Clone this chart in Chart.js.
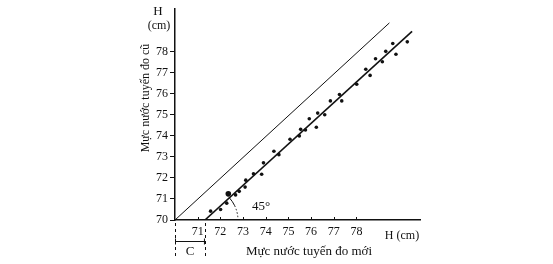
<!DOCTYPE html>
<html><head><meta charset="utf-8">
<script src="https://cdn.jsdelivr.net/npm/chart.js@4/dist/chart.umd.min.js"></script>
<style>html,body{margin:0;padding:0;background:#fff;}#wrap{width:553px;height:264px;}</style>
</head><body><div id="wrap"><canvas id="c" width="553" height="264"></canvas></div>
<script>
// ---- data ----
const xTicks = [71, 72, 73, 74, 75, 76, 77, 78];
const yTicks = [70, 71, 72, 73, 74, 75, 76, 77, 78];
const obsX = [71.57, 72.01, 72.28, 72.35, 72.67, 72.83, 73.09, 73.12, 73.46, 73.82, 73.90,
              74.36, 74.58, 75.07, 75.48, 75.54, 75.75, 75.92, 76.23, 76.29, 76.60, 76.85,
              77.25, 77.35, 78.01, 78.41, 78.60, 78.84, 79.14, 79.29, 79.60, 79.74, 80.24];
const obsY = [70.42, 70.50, 70.80, 71.24, 71.19, 71.36, 71.56, 71.89, 72.19, 72.17, 72.71,
              73.26, 73.10, 73.83, 73.99, 74.30, 74.27, 74.80, 74.40, 75.07, 74.99, 75.65,
              75.95, 75.65, 76.44, 77.15, 76.86, 77.65, 77.51, 78.00, 78.37, 77.86, 78.45];
const fitX = [71.32, 80.45];
const fitY = [70, 78.95];
const refX = [70, 79.45];
const refY = [70, 79.35];
const cInterval = [70, 71.32];
const angleLabel = "45°";
const xTitle = "Mực nước tuyến đo mới";
const yTitle = "Mực nước tuyến đo cũ";
const unitLabel = "H (cm)";

const zip = (xs, ys) => xs.map((x, i) => ({x, y: ys[i]}));
const SERIF = "'Liberation Serif', 'DejaVu Serif', serif";
const INK = '#111';

const annot = {
  id: 'annot',
  afterDraw(chart) {
    const ctx = chart.ctx, xs = chart.scales.x, ys = chart.scales.y;
    const x0 = xs.getPixelForValue(cInterval[0]);
    const x1 = xs.getPixelForValue(cInterval[1]);
    const yb = ys.getPixelForValue(70);
    ctx.save();
    ctx.fillStyle = INK; ctx.strokeStyle = INK;
    // inner x tick marks
    ctx.lineWidth = 1;
    xTicks.forEach(v => {
      const p = Math.round(xs.getPixelForValue(v)) + 0.5;
      ctx.beginPath(); ctx.moveTo(p, yb); ctx.lineTo(p, yb - 3); ctx.stroke();
    });
    // dashed verticals
    ctx.setLineDash([3, 3]);
    [x0, x1].forEach(p => {
      ctx.beginPath(); ctx.moveTo(Math.round(p) + 0.5, yb + 3); ctx.lineTo(Math.round(p) + 0.5, 258); ctx.stroke();
    });
    ctx.setLineDash([]);
    // C interval arrow
    const ay = 241.5;
    ctx.beginPath(); ctx.moveTo(x0, ay); ctx.lineTo(x1, ay); ctx.stroke();
    ctx.beginPath(); ctx.moveTo(x0 + 0.5, ay - 3); ctx.lineTo(x0 + 0.5, ay + 3);
    ctx.moveTo(x1 - 0.5, ay - 3); ctx.lineTo(x1 - 0.5, ay + 3); ctx.stroke();
    ctx.font = '13px ' + SERIF; ctx.textAlign = 'center'; ctx.textBaseline = 'middle';
    ctx.fillText('C', (x0 + x1) / 2, 252);
    // angle arc
    const cx = xs.getPixelForValue(fitX[0]), cy = ys.getPixelForValue(fitY[0]);
    const ex = xs.getPixelForValue(fitX[1]), ey = ys.getPixelForValue(fitY[1]);
    const ang = Math.atan2(ey - cy, ex - cx);
    const r = 33;
    ctx.lineWidth = 1;
    ctx.beginPath(); ctx.arc(cx, cy, r, ang, -0.45); ctx.stroke();
    ctx.setLineDash([1.5, 2]);
    ctx.beginPath(); ctx.arc(cx, cy, r, -0.45, 0); ctx.stroke();
    ctx.setLineDash([]);
    ctx.font = '13px ' + SERIF; ctx.textAlign = 'left'; ctx.textBaseline = 'alphabetic';
    ctx.fillText(angleLabel, 252, 210);
    // titles
    ctx.font = '13px ' + SERIF; ctx.textAlign = 'center'; ctx.textBaseline = 'middle';
    ctx.fillText(xTitle, 309, 252);
    ctx.font = '12px ' + SERIF;
    ctx.fillText(unitLabel, 402, 236);
    ctx.font = '13px ' + SERIF;
    ctx.fillText('H', 158, 12);
    ctx.font = '12px ' + SERIF;
    ctx.fillText('(cm)', 159, 26);
    ctx.save();
    ctx.translate(146, 98); ctx.rotate(-Math.PI / 2);
    ctx.font = '12px ' + SERIF;
    ctx.fillText(yTitle, 0, 0);
    ctx.restore();
    ctx.restore();
  }
};

new Chart(document.getElementById('c'), {
  type: 'scatter',
  data: {
    datasets: [
      { label: 'ref', data: zip(refX, refY), showLine: true, borderColor: INK, borderWidth: 1,
        pointRadius: 0, fill: false },
      { label: 'fit', data: zip(fitX, fitY), showLine: true, borderColor: INK, borderWidth: 1.6,
        pointRadius: 0, fill: false },
      { label: 'obs', data: zip(obsX, obsY), backgroundColor: INK, borderColor: INK,
        pointRadius: c => c.dataIndex === 3 ? 2.8 : 1.8, borderWidth: 0 }
    ]
  },
  options: {
    responsive: false, animation: false, devicePixelRatio: 1,
    layout: { padding: { left: 145, right: 133, top: 4, bottom: 0 } },
    plugins: { legend: { display: false }, tooltip: { enabled: false } },
    scales: {
      x: {
        type: 'linear', min: 70, max: 80.8,
        grid: { drawOnChartArea: false, drawTicks: false },
        border: { color: INK, width: 1.5 },
        ticks: { color: INK, font: { family: SERIF, size: 12 }, padding: 5 },
        afterBuildTicks: s => { s.ticks = xTicks.map(v => ({ value: v })); },
        afterFit: s => { s.height = 44; }
      },
      y: {
        type: 'linear', min: 70, max: 80,
        grid: { drawOnChartArea: false, drawTicks: true, tickLength: 5, color: INK },
        border: { color: INK, width: 1.5 },
        ticks: { color: INK, font: { family: SERIF, size: 12 }, padding: 2 },
        afterBuildTicks: s => { s.ticks = yTicks.map(v => ({ value: v })); },
        afterFit: s => { s.width = 30; }
      }
    }
  },
  plugins: [annot]
});
</script></body></html>
